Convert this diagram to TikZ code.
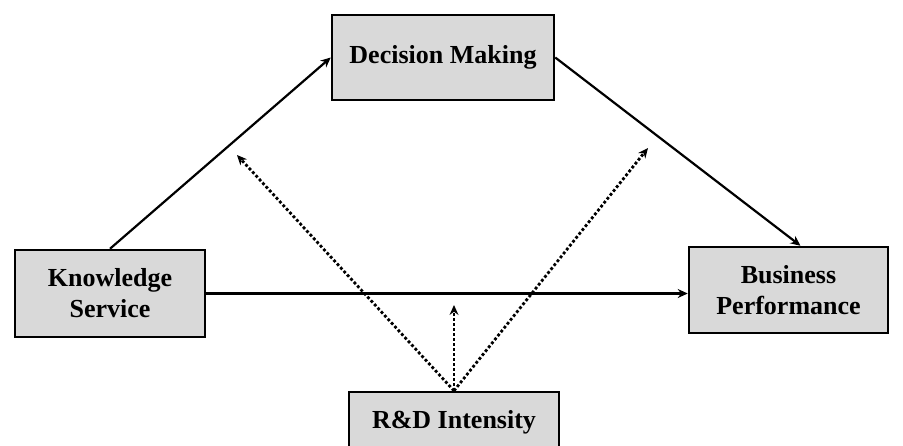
\documentclass[tikz,border=0pt]{standalone}
\usepackage{fontspec}
\setmainfont{Liberation Serif}
\usetikzlibrary{arrows.meta,calc}
\begin{document}
\begin{tikzpicture}[x=1pt,y=-1pt,
  box/.style={draw=black,line width=2.5pt,fill={rgb,255:red,217;green,217;blue,217},
    inner sep=0pt,align=center,font=\fontsize{26}{31}\selectfont\bfseries},
  solidarrow/.style={line width=2.2pt,-{Stealth[length=10pt,width=9pt]}},
  dotarrow/.style={line width=2.8pt,dash pattern=on 2.8pt off 2.2pt,-{Stealth[length=10pt,width=9pt,line width=0pt]}}]
\useasboundingbox (0,0) rectangle (903,445);
\clip (0,0) rectangle (903,445);
\node[box,minimum width=222pt,minimum height=85pt] (DM) at (443,57.5) {Decision Making};
\node[box,minimum width=190pt,minimum height=87pt] (KS) at (110,293.5) {Knowledge\\Service};
\node[box,minimum width=199pt,minimum height=86pt] (BP) at (788.5,290) {Business\\Performance};
\node[box,minimum width=210pt,minimum height=60pt] (RD) at (454,422) {R\&D Intensity};
\coordinate (m1) at (237,155);
\coordinate (m2) at (648,148);
\coordinate (m3) at (454,305);
\draw[solidarrow] (KS.north) -- (DM.west);
\draw[solidarrow] (DM.east) -- ([xshift=12pt]BP.north);
\draw[solidarrow] (KS.east) -- (KS.east -| BP.west);
\draw[dotarrow] (RD.north) -- (m1);
\draw[dotarrow] (RD.north) -- (m2);
\draw[dotarrow] (RD.north) -- (m3);
\end{tikzpicture}
\end{document}
